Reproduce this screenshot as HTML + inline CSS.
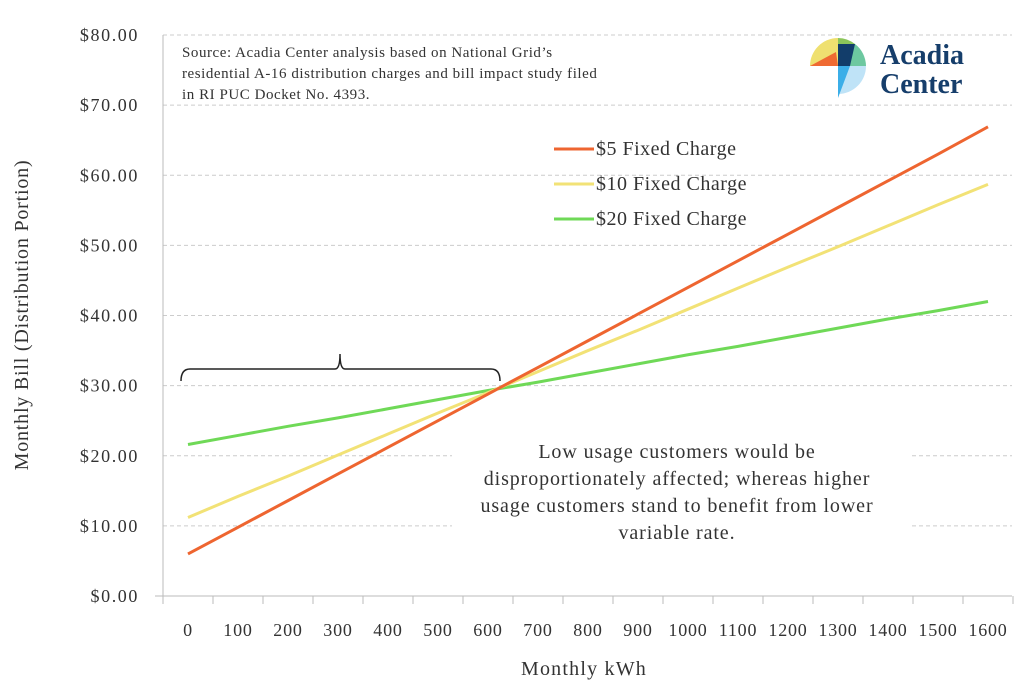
<!DOCTYPE html>
<html><head><meta charset="utf-8"><style>
body{margin:0;background:#fff;font-family:"Liberation Serif",serif;}
svg text{font-family:"Liberation Serif",serif;fill:#333;}
</style></head><body>
<svg width="1024" height="689" viewBox="0 0 1024 689">
<g id="grid"></g>
<g id="yt"></g>
<g id="xt"></g>
<g id="series"></g>
<text x="28" y="315" font-size="20" letter-spacing="0.8" text-anchor="middle" transform="rotate(-90 28 315)">Monthly Bill (Distribution Portion)</text>
<text x="584" y="675" font-size="20" letter-spacing="1.2" text-anchor="middle">Monthly kWh</text>
<g font-size="15" letter-spacing="0.55">
<text x="182" y="57">Source: Acadia Center analysis  based on National Grid’s</text>
<text x="182" y="78">residential A-16 distribution charges and bill impact study filed</text>
<text x="182" y="99">in RI PUC Docket No. 4393.</text></g>
<g font-size="20" letter-spacing="0.5">
<g><line x1="554" y1="149" x2="594" y2="149" stroke="#ee6530" stroke-width="3"/><text x="596" y="155">$5 Fixed Charge</text></g>
<g><line x1="554" y1="184" x2="594" y2="184" stroke="#f2e276" stroke-width="3"/><text x="596" y="190">$10 Fixed Charge</text></g>
<g><line x1="554" y1="219" x2="594" y2="219" stroke="#6fd957" stroke-width="3"/><text x="596" y="225">$20 Fixed Charge</text></g>
</g>
<path d="M181,381 Q181,369 190,369 L335,369 Q340,369 340,354 Q340,369 345,369 L491,369 Q500,369 500,381" fill="none" stroke="#222" stroke-width="1.5"/>
<rect x="452" y="432" width="460" height="120" fill="#fff"/>
<g font-size="20" letter-spacing="0.9" text-anchor="middle">
<text x="677" y="458">Low usage customers would be</text>
<text x="677" y="485">disproportionately affected; whereas higher</text>
<text x="677" y="512">usage customers stand to benefit from lower</text>
<text x="677" y="539">variable rate.</text></g>
<g>
<path d="M838,66 L838,38 A28,28 0 0 0 810,66 Z" fill="#efe070"/>
<path d="M838,66 L810,66 L836,52 Z" fill="#ef6a32"/>
<path d="M838,66 L838,38 A28,28 0 0 1 855,44 Z" fill="#8bc55a"/>
<path d="M838,66 L855,44 A28,28 0 0 1 866,66 Z" fill="#6dc8a0"/>
<polygon points="838,66 838,44 855,44 850,66" fill="#123d6a"/>
<path d="M838,66 L866,66 A28,28 0 0 1 838,94 Z" fill="#bfe3f7"/>
<polygon points="838,66 850,66 838,98" fill="#3baee8"/>
<text x="880" y="64" font-size="28" style="fill:#163e6b;font-weight:bold">Acadia</text>
<text x="880" y="93" font-size="28" style="fill:#163e6b;font-weight:bold">Center</text>
</g>
</svg>
<script>
const categories=[0,100,200,300,400,500,600,700,800,900,1000,1100,1200,1300,1400,1500,1600];
const fixed5=[6.0,9.8,13.6,17.4,21.2,25.0,28.8,32.6,36.4,40.2,44.0,47.8,51.6,55.4,59.2,63.0,66.9];
const fixed10=[11.2,14.2,17.1,20.1,23.1,26.1,29.0,32.0,35.0,37.9,40.9,43.9,46.9,49.8,52.8,55.8,58.7];
const fixed20=[21.6,22.9,24.2,25.4,26.7,28.0,29.3,30.5,31.8,33.1,34.4,35.6,36.9,38.2,39.5,40.7,42.0];
const yTicks=[0,10,20,30,40,50,60,70,80];
const NS="http://www.w3.org/2000/svg";
const X=i=>188+50*i, Y=v=>596-v*(561/80);
function mk(t,a,p){const e=document.createElementNS(NS,t);for(const k in a)e.setAttribute(k,a[k]);p.appendChild(e);return e;}
const grid=document.getElementById('grid'),yt=document.getElementById('yt'),xt=document.getElementById('xt'),ser=document.getElementById('series');
yTicks.forEach(v=>{
 if(v>0){const l=mk('line',{x1:163,x2:1012,y1:Y(v),y2:Y(v),stroke:'#ccc','stroke-width':1,'stroke-dasharray':'4,3'},grid);
 
 }
 const t=mk('text',{x:139,y:Y(v)+6,'font-size':18,'letter-spacing':1.6,'text-anchor':'end'},yt);t.textContent='$'+v.toFixed(2);
 
 
});
mk('line',{x1:163,x2:163,y1:35,y2:596,stroke:'#bbb'},grid);
mk('line',{x1:155,x2:1012,y1:596,y2:596,stroke:'#bbb'},grid);
for(let i=0;i<=categories.length;i++)mk('line',{x1:163+50*i,x2:163+50*i,y1:596,y2:604,stroke:'#bbb'},grid);
categories.forEach((c,i)=>{const t=mk('text',{x:X(i),y:636,'font-size':18,'letter-spacing':0.8,'text-anchor':'middle'},xt);t.textContent=c;
 
 });
[[fixed20,'#6fd957','line-20'],[fixed10,'#f2e276','line-10'],[fixed5,'#ee6530','line-5']].forEach(([d,c,n])=>{
 const p=mk('polyline',{points:d.map((v,i)=>X(i)+','+Y(v)).join(' '),fill:'none',stroke:c,'stroke-width':3},ser);
 
 
});
</script>
</body></html>
